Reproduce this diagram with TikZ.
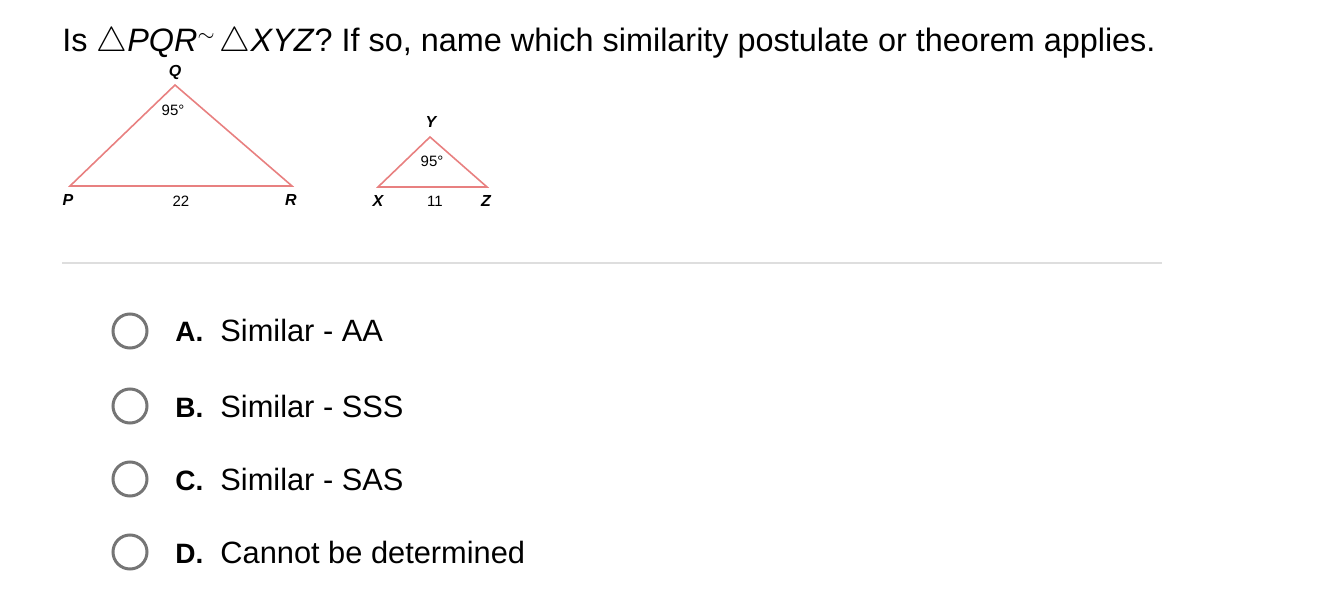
\documentclass[tikz,border=0pt]{standalone}
\usepackage{fontspec}
\setmainfont{Liberation Sans}
\definecolor{trired}{RGB}{232,128,128}
\definecolor{radiogray}{RGB}{117,117,117}
\definecolor{rulegray}{RGB}{222,222,222}
\begin{document}
\begin{tikzpicture}[x=0.5pt,y=-0.5pt,
  vert/.style={font=\fontsize{8}{9}\selectfont\bfseries\itshape,inner sep=0pt},
  meas/.style={font=\fontsize{7.5}{9}\selectfont,inner sep=0pt},
  side/.style={draw=trired,line width=0.8pt},
  radio/.style={circle,draw=radiogray,line width=1.5pt,minimum size=17pt,inner sep=0pt},
  choice/.style={anchor=base west,inner sep=0pt,font=\fontsize{15.4}{17}\selectfont}]
\useasboundingbox (0,0) rectangle (1332,614);
\node[anchor=base west,inner sep=0pt,font=\fontsize{16.2}{19}\selectfont] (title) at (62,52)
  {Is $\triangle$\textit{PQR}\raisebox{0.6ex}{$\scriptstyle\sim$}\,$\triangle$\textit{XYZ}? If so, name which similarity postulate or theorem applies.};
% big triangle
\coordinate (P) at (70,186);
\coordinate (Q) at (175,85);
\coordinate (R) at (292,186);
\draw[side] (P) -- (Q) -- (R) -- cycle;
\node[vert] (lQ) at (175,72) {Q};
\node[vert] (lP) at (68,200) {P};
\node[vert] (lR) at (291,200) {R};
\node[meas] (aQ) at (173,110) {95\textdegree};
\node[meas] (sPR) at (181,201) {22};
% small triangle
\coordinate (X) at (378,187);
\coordinate (Y) at (430,137);
\coordinate (Z) at (487,187);
\draw[side] (X) -- (Y) -- (Z) -- cycle;
\node[vert] (lY) at (431,122) {Y};
\node[vert] (lX) at (378,201) {X};
\node[vert] (lZ) at (486,201) {Z};
\node[meas] (aY) at (432,161) {95\textdegree};
\node[meas] (sXZ) at (435,201) {11};
\draw[rulegray,line width=0.7pt] (62,263) -- (1162,263);
% answers
\foreach \y/\l/\t in {331/A/Similar - AA,406/B/Similar - SSS,479/C/Similar - SAS,552/D/Cannot be determined}{
  \node[radio] (r\l) at (130,\y) {};
  \node[choice,font=\fontsize{14}{16}\selectfont\bfseries] (k\l) at (175,\y+11) {\l.};
  \node[choice] (c\l) at (220,\y+11) {\t};
}
\end{tikzpicture}
\end{document}
